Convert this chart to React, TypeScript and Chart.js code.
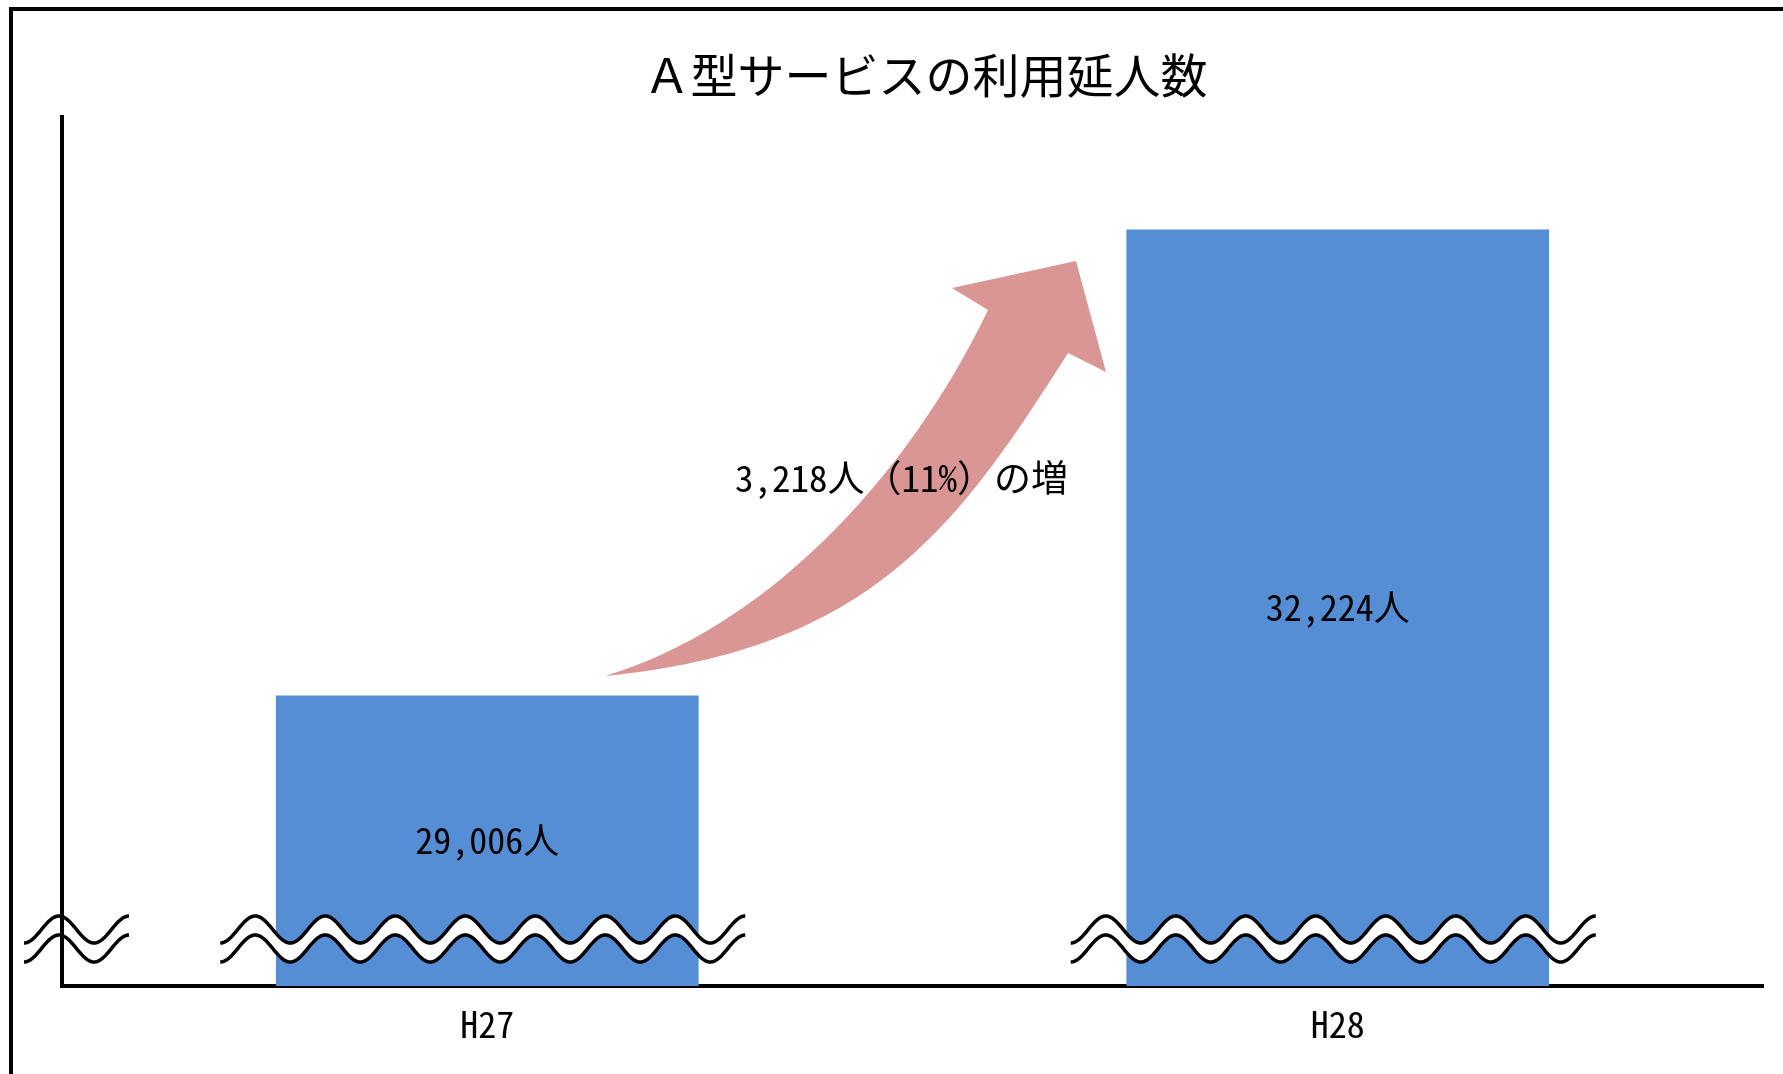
import { useEffect, useRef } from "react";
import { Chart, registerables } from "chart.js";

Chart.register(...registerables);

const categories = ["H27", "H28"];
const usersValues = [29006, 32224];
const valueLabels = ["29,006人", "32,224人"];
const increaseLabel = "3,218人（11%）の増";
const chartTitle = "Ａ型サービスの利用延人数";
const axisMin = 27000;
const axisMax = 33000;

const BAR_COLOR = "#558ED5";
const ARROW_COLOR = "#D99694";
const MONO = '"Noto Sans Mono CJK JP", "Noto Sans CJK JP", sans-serif';
const CJK = '"Noto Sans CJK JP", "Noto Sans", sans-serif';

// design frame of the decorative arrow: chart area spanning (62..1763, 117..986)
const FRAME = { l: 62, t: 117, w: 1701, h: 869 };

function wave(ctx: CanvasRenderingContext2D, x0: number, len: number, yc: number, amp: number, lam: number, reverse: boolean, move: boolean) {
  const n = Math.ceil(len);
  for (let i = 0; i <= n; i++) {
    const dx = reverse ? len - (i / n) * len : (i / n) * len;
    const x = x0 + dx;
    const y = yc + amp * Math.cos((2 * Math.PI * dx) / lam);
    if (i === 0 && move) ctx.moveTo(x, y);
    else ctx.lineTo(x, y);
  }
}

function drawBreak(ctx: CanvasRenderingContext2D, x0: number, waves: number, bottom: number, fill: boolean) {
  const lam = 70;
  const amp = 13.5;
  const len = waves * lam;
  const y1 = bottom - 56.5;
  const y2 = bottom - 37.5;
  ctx.save();
  if (fill) {
    ctx.beginPath();
    wave(ctx, x0, len, y1, amp, lam, false, true);
    wave(ctx, x0, len, y2, amp, lam, true, false);
    ctx.closePath();
    ctx.fillStyle = "#ffffff";
    ctx.fill();
  }
  ctx.strokeStyle = "#000000";
  ctx.lineWidth = 3.5;
  ctx.lineJoin = "round";
  ctx.beginPath();
  wave(ctx, x0, len, y1, amp, lam, false, true);
  ctx.stroke();
  ctx.beginPath();
  wave(ctx, x0, len, y2, amp, lam, false, true);
  ctx.stroke();
  ctx.restore();
}

const decorPlugin = {
  id: "decor",
  afterLayout(chart: any) {
    const t = chart.titleBlock;
    if (t) {
      t.left += 13;
      t.right += 13;
    }
  },
  afterDatasetsDraw(chart: any) {
    const ctx: CanvasRenderingContext2D = chart.ctx;
    const ca = chart.chartArea;
    const xScale = chart.scales.x;
    const yScale = chart.scales.y;
    const mx = (x: number) => ca.left + ((x - FRAME.l) / FRAME.w) * (ca.right - ca.left);
    const my = (y: number) => ca.top + ((y - FRAME.t) / FRAME.h) * (ca.bottom - ca.top);

    // curved arrow
    ctx.save();
    ctx.fillStyle = ARROW_COLOR;
    ctx.beginPath();
    ctx.moveTo(mx(605), my(676));
    ctx.bezierCurveTo(mx(763), my(629), mx(906), my(481), mx(988), my(310));
    ctx.lineTo(mx(952), my(288));
    ctx.lineTo(mx(1076), my(261));
    ctx.lineTo(mx(1106), my(372));
    ctx.lineTo(mx(1068), my(353));
    ctx.bezierCurveTo(mx(960.6), my(521.8), mx(873.7), my(650.1), mx(605), my(676));
    ctx.closePath();
    ctx.fill();

    ctx.fillStyle = "#000000";
    ctx.font = `37px ${MONO}`;
    ctx.textAlign = "center";
    ctx.textBaseline = "middle";
    ctx.fillText(increaseLabel, mx(901.5), my(477.5));
    ctx.restore();

    // axis break marks
    drawBreak(ctx, ca.left - 38, 1.5, ca.bottom, false);
    categories.forEach((_c, i) => {
      drawBreak(ctx, xScale.getPixelForValue(i) - 267, 7.5, ca.bottom, true);
    });

    // value labels centred in bars
    ctx.save();
    ctx.fillStyle = "#000000";
    ctx.font = `36px ${MONO}`;
    ctx.textAlign = "center";
    ctx.textBaseline = "middle";
    usersValues.forEach((v, i) => {
      const top = yScale.getPixelForValue(v);
      const base = yScale.getPixelForValue(axisMin);
      ctx.fillText(valueLabels[i], xScale.getPixelForValue(i), (top + base) / 2);
    });
    ctx.restore();
  },
};

export default function App() {
  const ref = useRef<HTMLCanvasElement | null>(null);

  useEffect(() => {
    if (!ref.current) return;
    const chart = new Chart(ref.current, {
      type: "bar",
      data: {
        labels: categories,
        datasets: [
          {
            label: chartTitle,
            data: usersValues,
            backgroundColor: BAR_COLOR,
            borderWidth: 0,
            barPercentage: 0.497,
            categoryPercentage: 1,
          },
        ],
      },
      options: {
        responsive: true,
        maintainAspectRatio: false,
        animation: false,
        devicePixelRatio: 1,
        layout: { padding: { left: 62, right: 20, top: 0, bottom: 0 } },
        plugins: {
          legend: { display: false },
          tooltip: { enabled: false },
          title: {
            display: true,
            text: chartTitle,
            color: "#000000",
            font: { family: CJK, size: 47, weight: "normal", lineHeight: 1.2 },
            padding: { top: 47, bottom: 13.6 },
          },
        },
        scales: {
          x: {
            grid: { display: false, drawTicks: false },
            border: { display: true, color: "#000000", width: 4 },
            ticks: {
              color: "#000000",
              font: { family: MONO, size: 36 },
              padding: 17,
            },
            afterFit: (s: any) => {
              s.height = 88;
            },
          },
          y: {
            min: axisMin,
            max: axisMax,
            grid: { display: false, drawTicks: false },
            border: { display: true, color: "#000000", width: 4 },
            ticks: { display: false },
            afterFit: (s: any) => {
              s.width = 0;
            },
          },
        },
      },
      plugins: [decorPlugin],
    });
    return () => chart.destroy();
  }, []);

  return (
    <>
      <div style={{ position: "fixed", left: 0, top: 0, width: 1783, height: 1074, background: "#ffffff" }}>
        <canvas ref={ref} style={{ display: "block" }} />
      </div>
      <div
        style={{
          position: "fixed",
          left: 9,
          top: 7,
          width: 1774,
          height: 1067,
          borderTop: "4px solid #000",
          borderLeft: "4px solid #000",
          boxSizing: "border-box",
          pointerEvents: "none",
        }}
      />
    </>
  );
}
